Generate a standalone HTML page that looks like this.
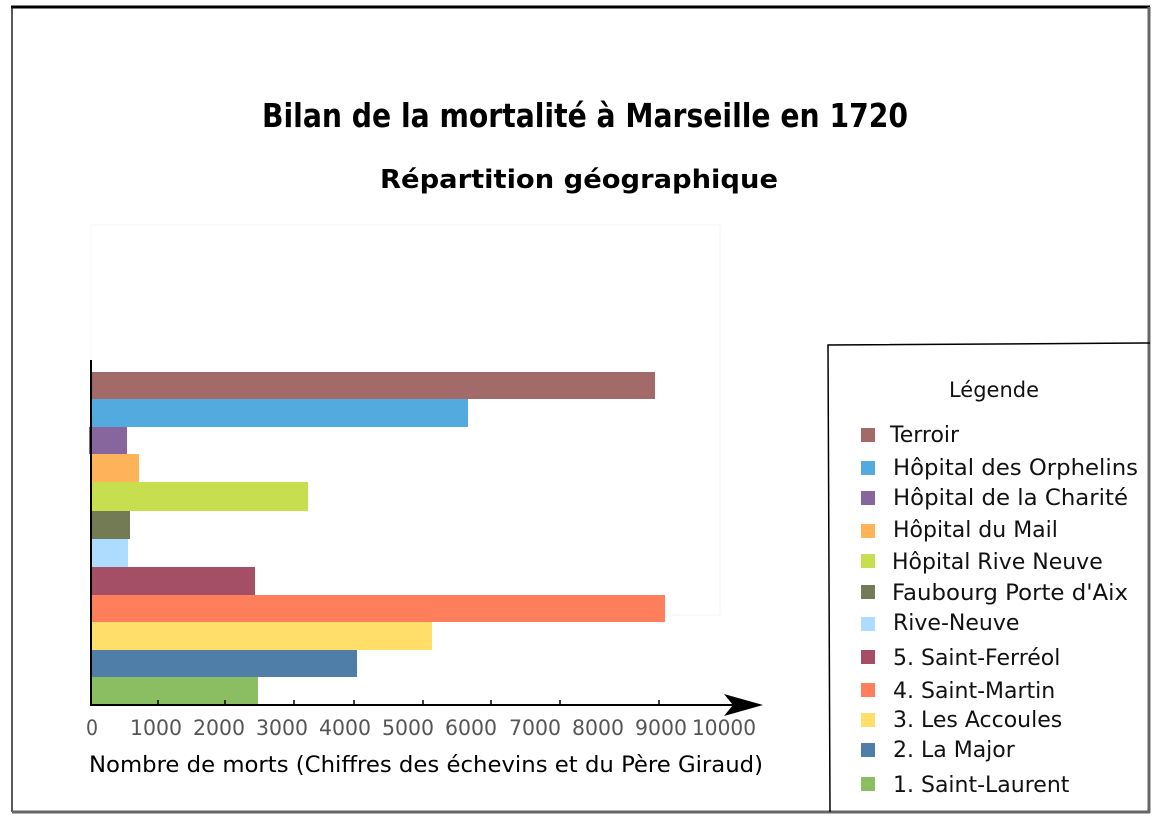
<!DOCTYPE html>
<html><head><meta charset="utf-8"><style>
html,body{margin:0;padding:0;background:#fff;}
svg{display:block;}
</style></head><body>
<svg width="1160" height="822" viewBox="0 0 1160 822" xmlns="http://www.w3.org/2000/svg">
<rect x="0" y="0" width="1160" height="822" fill="#fff"/>
<line x1="11" y1="7" x2="1150" y2="7" stroke="#000" stroke-width="3"/>
<line x1="12" y1="7" x2="12" y2="812" stroke="#222" stroke-width="1.5"/>
<line x1="1149" y1="7" x2="1149" y2="813" stroke="#666" stroke-width="3"/>
<line x1="12" y1="812" x2="1150" y2="812" stroke="#666" stroke-width="3"/>
<text x="585" y="127" text-anchor="middle" font-family="DejaVu Sans Condensed, DejaVu Sans, sans-serif" font-weight="bold" font-size="33" textLength="646" lengthAdjust="spacingAndGlyphs">Bilan de la mortalité à Marseille en 1720</text>
<text x="579" y="188" text-anchor="middle" font-family="DejaVu Sans, sans-serif" font-weight="bold" font-size="26" textLength="398" lengthAdjust="spacingAndGlyphs">Répartition géographique</text>
<rect x="91" y="225" width="629" height="390" fill="none" stroke="#f4f4f4" stroke-width="1"/>
<rect x="91" y="372" width="564" height="27" fill="#a26a68"/>
<rect x="91" y="399" width="377" height="28" fill="#52aade"/>
<rect x="89" y="427" width="38" height="27" fill="#86669d"/>
<rect x="91" y="454" width="48" height="28" fill="#feb35a"/>
<rect x="91" y="482" width="217" height="29" fill="#c7df4f"/>
<rect x="91" y="511" width="39" height="28" fill="#727b53"/>
<rect x="91" y="539" width="37" height="28" fill="#aedcfe"/>
<rect x="91" y="567" width="164" height="28" fill="#a54f66"/>
<rect x="91" y="595" width="574" height="27" fill="#ff7e5b"/>
<rect x="91" y="622" width="341" height="28" fill="#ffdf69"/>
<rect x="91" y="650" width="266" height="27" fill="#4f7ea9"/>
<rect x="91" y="677" width="167" height="28" fill="#8bbd63"/>
<line x1="91" y1="360" x2="91" y2="706" stroke="#000" stroke-width="2"/>
<line x1="90" y1="705" x2="740" y2="705" stroke="#000" stroke-width="2"/>
<polygon points="724,694 763,705 724,716 733,705" fill="#000"/>
<g stroke="#000" stroke-width="1.5">
<line x1="158" y1="700" x2="158" y2="705"/><line x1="225" y1="700" x2="225" y2="705"/>
<line x1="294" y1="700" x2="294" y2="705"/><line x1="354" y1="700" x2="354" y2="705"/>
<line x1="423" y1="700" x2="423" y2="705"/><line x1="491" y1="700" x2="491" y2="705"/>
<line x1="560" y1="700" x2="560" y2="705"/><line x1="659" y1="700" x2="659" y2="705"/>
</g>
<g font-family="DejaVu Sans Condensed, DejaVu Sans, sans-serif" font-size="21" fill="#555" text-anchor="middle">
<text x="92" y="735">0</text>
<text x="156" y="735" textLength="52" lengthAdjust="spacingAndGlyphs">1000</text>
<text x="219" y="735" textLength="52" lengthAdjust="spacingAndGlyphs">2000</text>
<text x="282" y="735" textLength="52" lengthAdjust="spacingAndGlyphs">3000</text>
<text x="345" y="735" textLength="52" lengthAdjust="spacingAndGlyphs">4000</text>
<text x="408" y="735" textLength="52" lengthAdjust="spacingAndGlyphs">5000</text>
<text x="471" y="735" textLength="52" lengthAdjust="spacingAndGlyphs">6000</text>
<text x="535" y="735" textLength="52" lengthAdjust="spacingAndGlyphs">7000</text>
<text x="598" y="735" textLength="52" lengthAdjust="spacingAndGlyphs">8000</text>
<text x="661" y="735" textLength="52" lengthAdjust="spacingAndGlyphs">9000</text>
<text x="724" y="735" textLength="64" lengthAdjust="spacingAndGlyphs">10000</text>
</g>
<text x="426" y="772" text-anchor="middle" font-family="DejaVu Sans Condensed, DejaVu Sans, sans-serif" font-size="22" textLength="674" lengthAdjust="spacingAndGlyphs">Nombre de morts (Chiffres des échevins et du Père Giraud)</text>
<polyline points="830,812 828,345 1150,343" fill="none" stroke="#000" stroke-width="1.5"/>
<g font-family="DejaVu Sans, sans-serif" font-size="22" fill="#111">
<text x="994" y="397" font-size="21" text-anchor="middle">Légende</text>
<rect x="861" y="428" width="14" height="14" fill="#a26a68"/><text x="890" y="442">Terroir</text>
<rect x="861" y="461" width="14" height="14" fill="#52aade"/><text x="893" y="475" textLength="245" lengthAdjust="spacingAndGlyphs">Hôpital des Orphelins</text>
<rect x="861" y="491" width="14" height="14" fill="#86669d"/><text x="893" y="505" textLength="235" lengthAdjust="spacingAndGlyphs">Hôpital de la Charité</text>
<rect x="861" y="524" width="14" height="14" fill="#feb35a"/><text x="893" y="537">Hôpital du Mail</text>
<rect x="861" y="554" width="14" height="14" fill="#c7df4f"/><text x="892" y="569">Hôpital Rive Neuve</text>
<rect x="861" y="585" width="14" height="14" fill="#727b53"/><text x="892" y="600" textLength="236" lengthAdjust="spacingAndGlyphs">Faubourg Porte d'Aix</text>
<rect x="861" y="617" width="14" height="14" fill="#aedcfe"/><text x="893" y="630">Rive-Neuve</text>
<rect x="861" y="650" width="14" height="14" fill="#a54f66"/><text x="893" y="665">5. Saint-Ferréol</text>
<rect x="861" y="683" width="14" height="14" fill="#ff7e5b"/><text x="893" y="698">4. Saint-Martin</text>
<rect x="861" y="713" width="14" height="14" fill="#ffdf69"/><text x="893" y="727">3. Les Accoules</text>
<rect x="861" y="743" width="14" height="14" fill="#4f7ea9"/><text x="893" y="757">2. La Major</text>
<rect x="861" y="777" width="14" height="14" fill="#8bbd63"/><text x="893" y="792">1. Saint-Laurent</text>
</g>
</svg>
</body></html>
